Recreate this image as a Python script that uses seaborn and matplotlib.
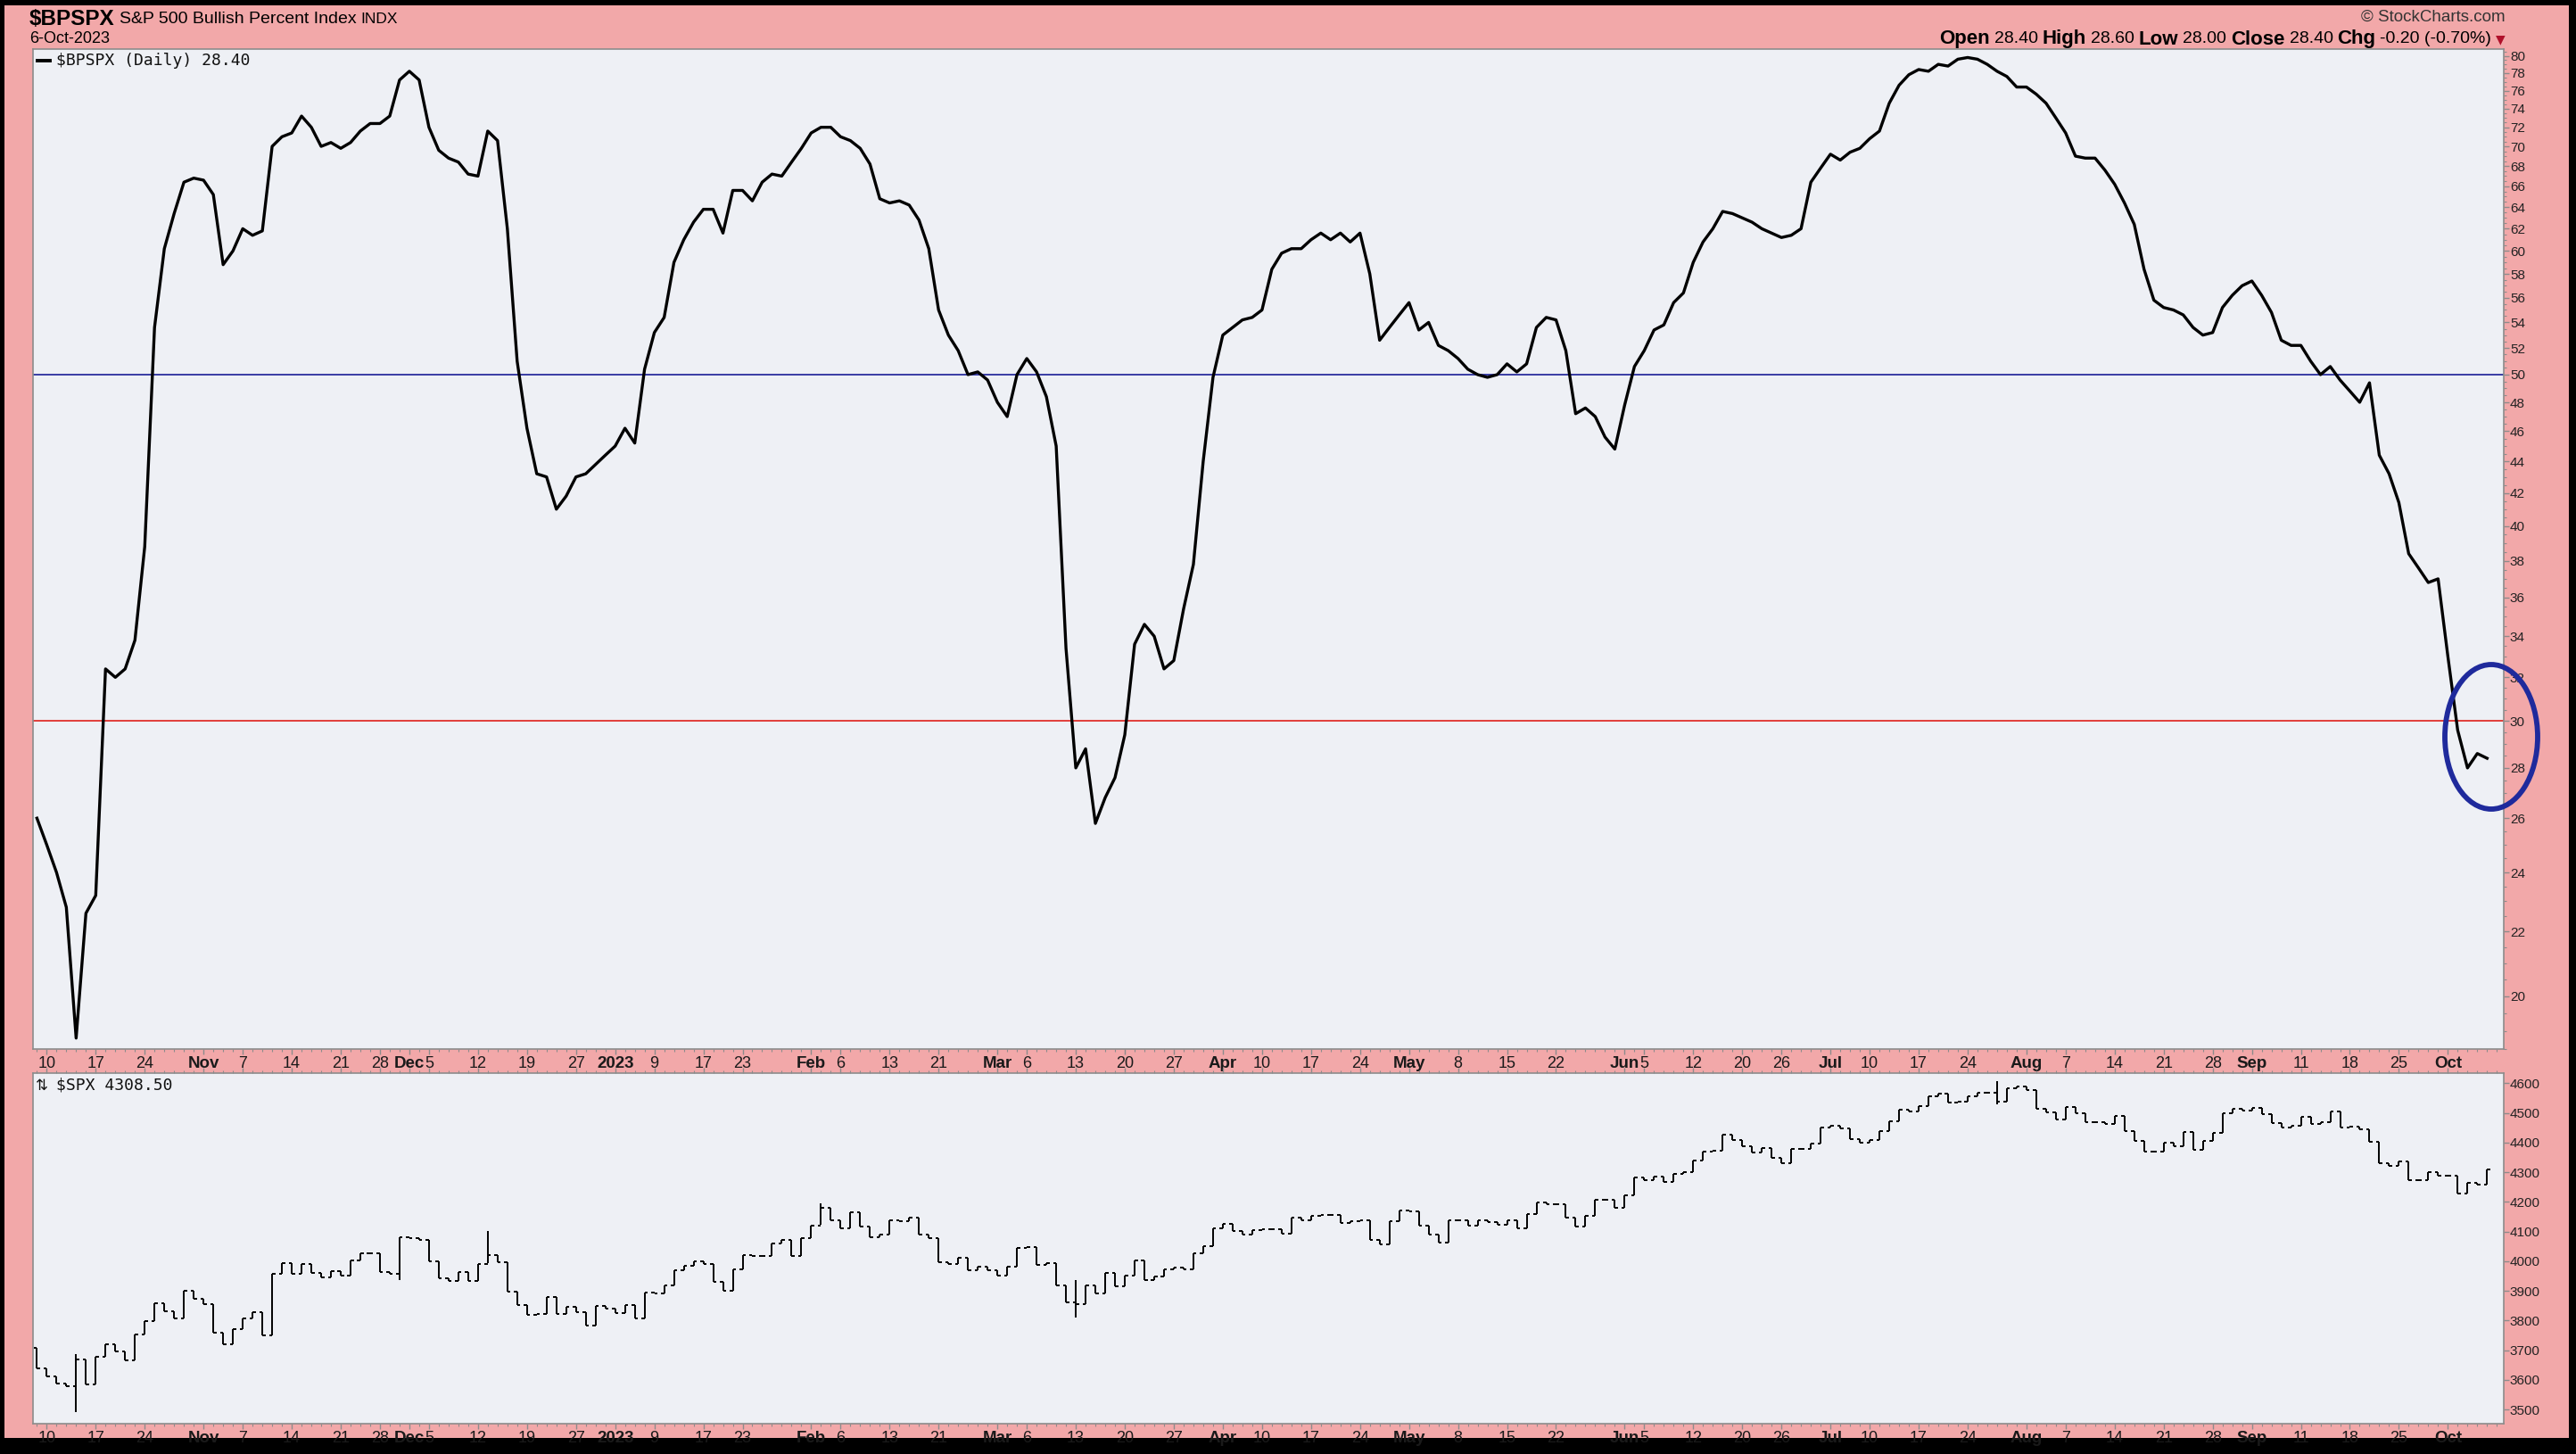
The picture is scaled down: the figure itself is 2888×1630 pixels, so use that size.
import matplotlib
matplotlib.use("Agg")
import matplotlib.pyplot as plt
from matplotlib import font_manager
from matplotlib.patches import Rectangle, Ellipse
from matplotlib.lines import Line2D
from matplotlib.transforms import IdentityTransform
from matplotlib.ticker import FixedLocator, MultipleLocator, NullFormatter, FixedFormatter
import seaborn as sns
import numpy as np
import pandas as pd

# ---- data -------------------------------------------------------------
holidays = ["2022-11-24", "2022-12-26", "2023-01-02", "2023-01-16", "2023-02-20",
            "2023-04-07", "2023-05-29", "2023-06-19", "2023-07-04", "2023-09-04"]

# S&P 500 Bullish Percent Index, daily closes 7-Oct-2022 .. 6-Oct-2023
bpspx = [
    # Oct 2022
    26.0, 25.0, 24.0, 22.8, 18.8, 22.6, 23.2, 32.4, 32.0, 32.4, 33.8, 38.8, 53.6, 60.2, 63.4, 66.4, 66.8,
    # Nov
    66.6, 65.2, 58.8, 60.0, 62.0, 61.4, 61.8, 70.0, 71.0, 71.4, 73.2, 72.0, 70.0, 70.4, 69.8, 70.4, 71.6,
    72.4, 72.4, 73.2, 77.2,
    # Dec
    78.2, 77.2, 72.0, 69.6, 68.8, 68.4, 67.2, 67.0, 71.6, 70.6, 62.0, 51.0, 46.2, 43.2, 43.0, 41.0, 41.8,
    43.0, 43.2, 43.8, 44.4,
    # Jan 2023
    45.0, 46.2, 45.2, 50.4, 53.2, 54.4, 59.0, 61.0, 62.6, 63.8, 63.8, 61.6, 65.6, 65.6, 64.6, 66.4, 67.2,
    67.0, 68.4, 69.8,
    # Feb
    71.4, 72.0, 72.0, 71.0, 70.6, 69.8, 68.2, 64.8, 64.4, 64.6, 64.2, 62.8, 60.2, 55.0, 53.0, 51.8, 50.0,
    50.2, 49.6,
    # Mar
    48.0, 47.0, 50.0, 51.2, 50.2, 48.4, 45.0, 33.4, 28.0, 28.8, 25.8, 26.8, 27.6, 29.4, 33.6, 34.6, 34.0,
    32.4, 32.8, 35.4, 37.8, 44.0, 49.8,
    # Apr
    53.0, 53.6, 54.2, 54.4, 55.0, 58.4, 59.8, 60.2, 60.2, 61.0, 61.6, 61.0, 61.6, 60.8, 61.6, 58.0, 52.6,
    53.6, 54.6,
    # May
    55.6, 53.4, 54.0, 52.2, 51.8, 51.2, 50.4, 50.0, 49.8, 50.0, 50.8, 50.2, 50.8, 53.6, 54.4, 54.2, 51.8,
    47.2, 47.6, 47.0, 45.6, 44.8,
    # Jun
    47.8, 50.6, 51.8, 53.4, 53.8, 55.6, 56.4, 59.0, 60.8, 62.0, 63.6, 63.4, 63.0, 62.6, 62.0, 61.6, 61.2,
    61.4, 62.0, 66.4, 67.8,
    # Jul
    69.2, 68.6, 69.4, 69.8, 70.8, 71.6, 74.6, 76.6, 77.8, 78.4, 78.2, 79.0, 78.8, 79.6, 79.8, 79.6, 79.0,
    78.2, 77.6, 76.4,
    # Aug
    76.4, 75.6, 74.6, 73.0, 71.4, 69.0, 68.8, 68.8, 67.6, 66.2, 64.4, 62.4, 58.4, 55.8, 55.2, 55.0, 54.6,
    53.6, 53.0, 53.2, 55.2, 56.2, 57.0,
    # Sep
    57.4, 56.2, 54.8, 52.6, 52.2, 52.2, 51.0, 50.0, 50.6, 49.6, 48.8, 48.0, 49.4, 44.4, 43.2, 41.4, 38.4,
    37.6, 36.8, 37.0,
    # Oct 2023
    33.0, 29.6, 28.0, 28.6, 28.4,
]

# $SPX daily closes, same days
spx_close = [
    # Oct 2022
    3639.66, 3612.39, 3588.84, 3577.03, 3669.91, 3583.07, 3677.95, 3719.98, 3695.16, 3665.78, 3752.75,
    3797.34, 3859.11, 3830.60, 3807.30, 3901.06, 3871.98,
    # Nov
    3856.10, 3759.69, 3719.89, 3770.55, 3806.80, 3828.11, 3748.57, 3956.37, 3992.93, 3957.25, 3991.73,
    3958.79, 3946.56, 3965.34, 3949.94, 4003.58, 4027.26, 4026.12, 3963.94, 3957.63, 4080.11,
    # Dec
    4076.57, 4071.70, 3998.84, 3941.26, 3933.92, 3963.51, 3934.38, 3990.56, 4019.65, 3995.32, 3895.75,
    3852.36, 3817.66, 3821.62, 3878.44, 3822.39, 3844.82, 3829.25, 3783.22, 3849.28, 3839.50,
    # Jan 2023
    3824.14, 3852.97, 3808.10, 3895.08, 3892.09, 3919.25, 3969.61, 3983.17, 3999.09, 3990.97, 3928.86,
    3898.85, 3972.61, 4019.81, 4016.95, 4016.22, 4060.43, 4070.56, 4017.77, 4076.60,
    # Feb
    4119.21, 4179.76, 4136.48, 4111.08, 4164.00, 4117.86, 4081.50, 4090.46, 4137.29, 4136.13, 4147.60,
    4090.41, 4079.09, 3997.34, 3991.05, 4012.32, 3970.04, 3982.24, 3970.15,
    # Mar
    3951.39, 3981.35, 4045.64, 4048.42, 3986.37, 3992.01, 3918.32, 3861.59, 3855.76, 3919.29, 3891.93,
    3960.28, 3916.64, 3951.57, 4002.87, 3936.97, 3948.72, 3970.99, 3977.53, 3971.27, 4027.81, 4050.83,
    4109.31,
    # Apr
    4124.51, 4100.60, 4090.38, 4105.02, 4109.11, 4108.94, 4091.95, 4146.22, 4137.64, 4151.32, 4154.87,
    4154.52, 4129.79, 4133.52, 4137.04, 4071.63, 4055.99, 4135.35, 4169.48,
    # May
    4167.87, 4119.58, 4090.75, 4061.22, 4136.25, 4138.12, 4119.17, 4137.64, 4130.62, 4124.08, 4136.28,
    4109.90, 4158.77, 4198.05, 4191.98, 4192.63, 4145.58, 4115.24, 4151.28, 4205.45, 4205.52, 4179.83,
    # Jun
    4221.02, 4282.37, 4273.79, 4283.85, 4267.52, 4293.93, 4298.86, 4338.93, 4369.01, 4372.59, 4425.84,
    4409.59, 4388.71, 4365.69, 4381.89, 4348.33, 4328.82, 4378.41, 4376.86, 4396.44, 4450.38,
    # Jul
    4455.59, 4446.82, 4411.59, 4398.95, 4409.53, 4439.26, 4472.16, 4510.04, 4505.42, 4522.79, 4554.98,
    4565.72, 4534.87, 4536.34, 4554.64, 4567.46, 4566.75, 4537.41, 4582.23, 4588.96,
    # Aug
    4576.73, 4513.39, 4501.89, 4478.03, 4518.44, 4499.38, 4467.71, 4468.83, 4464.05, 4489.72, 4437.86,
    4404.33, 4370.36, 4369.71, 4399.77, 4387.55, 4436.01, 4376.31, 4405.71, 4433.31, 4497.63, 4514.87,
    4507.66,
    # Sep
    4515.77, 4496.83, 4465.48, 4451.14, 4457.49, 4487.46, 4461.90, 4467.44, 4505.10, 4450.32, 4453.53,
    4443.95, 4402.20, 4330.00, 4320.06, 4337.44, 4273.53, 4274.51, 4299.70, 4288.05,
    # Oct 2023
    4288.39, 4229.45, 4263.75, 4258.19, 4308.50,
]
spx_first_open = 3706.74
# a few intraday extremes that stick out of the bars
spx_extremes = {"2022-10-13": (3491.58, 3685.41), "2022-12-13": (3993.03, 4100.96),
                "2023-02-02": (4123.36, 4195.44), "2023-07-27": (4528.56, 4607.07),
                "2022-11-30": (3937.65, 4080.11), "2023-03-13": (3808.86, 3937.01)}

tick_dates = ["2022-10-10", "2022-10-17", "2022-10-24", "2022-11-01", "2022-11-07", "2022-11-14",
              "2022-11-21", "2022-11-28", "2022-12-01", "2022-12-05", "2022-12-12", "2022-12-19",
              "2022-12-27", "2023-01-03", "2023-01-09", "2023-01-17", "2023-01-23", "2023-02-01",
              "2023-02-06", "2023-02-13", "2023-02-21", "2023-03-01", "2023-03-06", "2023-03-13",
              "2023-03-20", "2023-03-27", "2023-04-03", "2023-04-10", "2023-04-17", "2023-04-24",
              "2023-05-01", "2023-05-08", "2023-05-15", "2023-05-22", "2023-06-01", "2023-06-05",
              "2023-06-12", "2023-06-20", "2023-06-26", "2023-07-03", "2023-07-10", "2023-07-17",
              "2023-07-24", "2023-08-01", "2023-08-07", "2023-08-14", "2023-08-21", "2023-08-28",
              "2023-09-01", "2023-09-11", "2023-09-18", "2023-09-25", "2023-10-02"]
tick_labels = ["10", "17", "24", "Nov", "7", "14", "21", "28", "Dec", "5", "12", "19", "27", "2023",
               "9", "17", "23", "Feb", "6", "13", "21", "Mar", "6", "13", "20", "27", "Apr", "10", "17",
               "24", "May", "8", "15", "22", "Jun", "5", "12", "20", "26", "Jul", "10", "17", "24",
               "Aug", "7", "14", "21", "28", "Sep", "11", "18", "25", "Oct"]
bp_ticks = list(range(20, 81, 2))
spx_ticks = list(range(3500, 4601, 100))

# ---- style -------------------------------------------------------------
PINK = "#F2A8A9"
PANEL = "#EEF0F5"
EDGE = "#8C8C8C"
W, H = 2888, 1630

names = {f.name for f in font_manager.fontManager.ttflist}
NARROW = "Liberation Sans Narrow" if "Liberation Sans Narrow" in names else "Liberation Sans"
plt.rcParams["font.family"] = ["Liberation Sans", "DejaVu Sans"]

days = pd.bdate_range("2022-10-07", "2023-10-06")
days = days[~days.isin(pd.to_datetime(holidays))]
x = np.arange(len(days))
tick_pos = days.get_indexer(pd.to_datetime(tick_dates))

df = pd.DataFrame({"day": x, "bpspx": bpspx})

close = np.array(spx_close)
opn = np.concatenate([[spx_first_open], close[:-1]])
high = np.maximum(opn, close)
low = np.minimum(opn, close)
for d, (lo, hi) in spx_extremes.items():
    i = days.get_loc(pd.Timestamp(d))
    low[i], high[i] = lo, hi

fig = plt.figure(figsize=(W / 100, H / 100), dpi=100, facecolor="black")
fig.add_artist(Rectangle((5, 18), W - 13, H - 24, transform=IdentityTransform(),
                         fc=PINK, ec="none", zorder=-5))

ax1 = fig.add_axes([37 / W, 1 - 1176 / H, 2770 / W, 1121 / H])
ax2 = fig.add_axes([37 / W, 1 - 1596 / H, 2770 / W, 393 / H])

for ax in (ax1, ax2):
    ax.set_facecolor(PANEL)
    for s in ax.spines.values():
        s.set_color(EDGE)
        s.set_linewidth(1.2)
    ax.set_xlim(-0.4, len(x) + 0.7)
    ax.xaxis.set_major_locator(FixedLocator(tick_pos))
    ax.xaxis.set_minor_locator(MultipleLocator(1))
    ax.yaxis.tick_right()
    ax.tick_params(axis="both", which="both", colors=EDGE, direction="out")
    ax.tick_params(axis="y", which="major", length=4, width=1, labelsize=11,
                   labelcolor="#222222", pad=1)
    ax.tick_params(axis="y", which="minor", length=2, width=0.8)
    ax.tick_params(axis="x", which="major", length=4, width=1, labelsize=13,
                   labelcolor="#1a1a1a", pad=1.5)
    ax.tick_params(axis="x", which="minor", length=2.5, width=0.8)

# top panel: bullish percent line
sns.lineplot(data=df, x="day", y="bpspx", ax=ax1, color="black", linewidth=2.4)
ax1.set_xlabel("")
ax1.set_ylabel("")
ax1.set_yscale("log")
ax1.set_ylim(18.5, 80.8)
ax1.yaxis.set_major_locator(FixedLocator(bp_ticks))
ax1.yaxis.set_major_formatter(FixedFormatter([str(t) for t in bp_ticks]))
ax1.yaxis.set_minor_locator(FixedLocator(np.arange(18.5, 81, 0.5)))
ax1.yaxis.set_minor_formatter(NullFormatter())
ax1.axhline(50, color="#2a2f9e", lw=1.3, zorder=1)
ax1.axhline(30, color="#e0302c", lw=1.3, zorder=1)
ax1.tick_params(axis="x", which="both", top=False, bottom=True, labelbottom=True)
ax1.set_xticklabels(tick_labels)

# bottom panel: SPX OHLC bars
ax2.vlines(x, low, high, color="black", lw=1.4)
ax2.hlines(opn, x - 0.32, x, color="black", lw=1.4)
ax2.hlines(close, x, x + 0.32, color="black", lw=1.4)
ax2.set_xlabel("")
ax2.set_ylabel("")
ax2.set_ylim(3452, 4634)
ax2.yaxis.set_major_locator(FixedLocator(spx_ticks))
ax2.yaxis.set_major_formatter(FixedFormatter([str(t) for t in spx_ticks]))
ax2.tick_params(axis="x", which="both", top=True, bottom=True, labeltop=False, labelbottom=True)
ax2.set_xticklabels(tick_labels)

month_names = {"Nov", "Dec", "2023", "Feb", "Mar", "Apr", "May", "Jun", "Jul", "Aug", "Sep", "Oct"}
for ax in (ax1, ax2):
    for lab in ax.get_xticklabels():
        if lab.get_text() in month_names:
            lab.set_fontweight("bold")
            lab.set_fontsize(13.5)

# legends inside panels
fig.add_artist(Line2D([42, 56], [H - 68, H - 68], transform=IdentityTransform(), color="black", lw=2.8))
fig.text(63 / W, 1 - 68 / H, "\\$BPSPX (Daily) 28.40", family="DejaVu Sans Mono", fontsize=13,
         va="center", ha="left", color="#111111")
fig.text(40 / W, 1 - 1217 / H, "\u21c5", family="DejaVu Sans", fontsize=12, va="center", ha="left",
         color="#111111")
fig.text(63 / W, 1 - 1217 / H, "\\$SPX 4308.50", family="DejaVu Sans Mono", fontsize=13,
         va="center", ha="left", color="#111111")

# header
renderer = fig.canvas.get_renderer()


def runs(parts, x0, y, right=False):
    seq = reversed(parts) if right else parts
    cur = x0
    for txt, kw in seq:
        t = fig.text(cur / W, 1 - y / H, txt, ha="right" if right else "left", va="center", **kw)
        w = t.get_window_extent(renderer).width
        cur = cur - w - 5 if right else cur + w + 5


runs([("\\$BPSPX", dict(fontsize=17.5, fontweight="bold", family=NARROW)),
      ("S&P 500 Bullish Percent Index", dict(fontsize=14, family=NARROW)),
      ("INDX", dict(fontsize=12.5, family=NARROW))], 33, 21)
fig.text(33 / W, 1 - 44 / H, "6-Oct-2023", fontsize=13, va="center", ha="left")
fig.text(2809 / W, 1 - 19 / H, "\u00a9 StockCharts.com", fontsize=13.5, va="center", ha="right",
         color="#333333", family=NARROW)
bold = dict(fontsize=16, fontweight="bold", family=NARROW)
reg = dict(fontsize=14, family=NARROW)
runs([("Open", bold), ("28.40", reg), ("High", bold), ("28.60", reg), ("Low", bold), ("28.00", reg),
      ("Close", bold), ("28.40", reg), ("Chg", bold), ("-0.20 (-0.70%)", reg),
      ("\u25bc", dict(fontsize=10, color="#b0102a", family="DejaVu Sans"))], 2809, 44, right=True)

# highlight circle around the latest readings
fig.add_artist(Ellipse((2793, H - 826), 104, 162, transform=IdentityTransform(), fill=False,
                       ec="#1f2a9c", lw=4.2, zorder=10))

fig.savefig("out.png", dpi=100, facecolor="black")
